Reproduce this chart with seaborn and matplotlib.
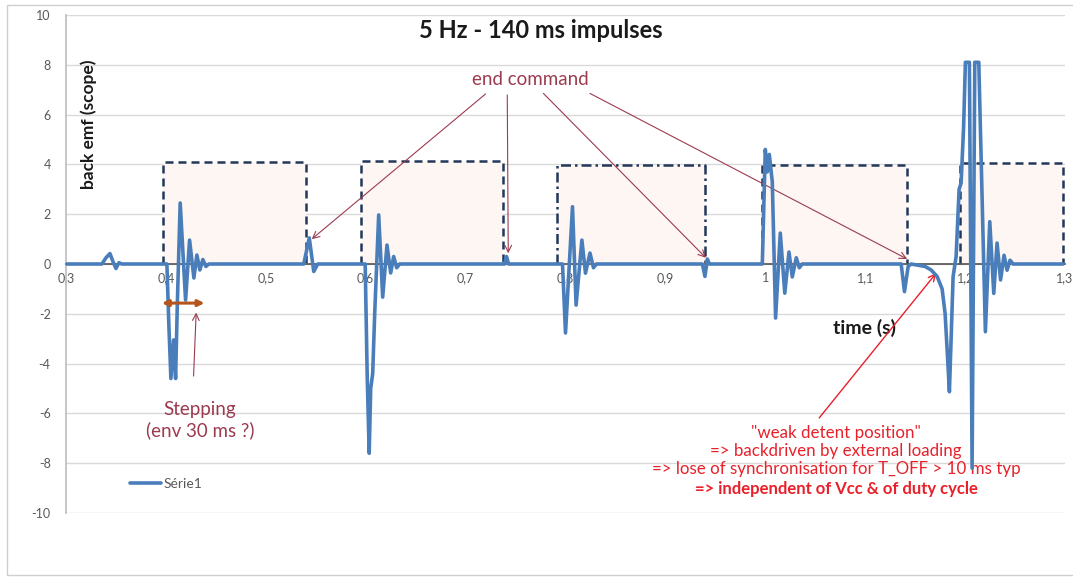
import numpy as np
import pandas as pd
import seaborn as sns
from matplotlib import pyplot as plt
from matplotlib.patches import Rectangle

# scope trace, points (time in s, back emf)
t = [0.300, 0.336, 0.340, 0.344, 0.347, 0.350, 0.353, 0.356,
     0.401, 0.403, 0.405, 0.4077, 0.4097, 0.4115, 0.4143, 0.4197, 0.4237, 0.428, 0.431, 0.434, 0.437, 0.440, 0.443,
     0.538, 0.5435, 0.548, 0.552,
     0.5995, 0.6015, 0.6035, 0.605, 0.607, 0.609, 0.613, 0.617, 0.6213, 0.625, 0.628, 0.631, 0.634,
     0.739, 0.741, 0.743,
     0.797, 0.800, 0.807, 0.8106, 0.8164, 0.820, 0.8245, 0.828, 0.831,
     0.937, 0.9396, 0.942, 0.944,
     0.997, 1.000, 1.002, 1.004, 1.007, 1.0103, 1.015, 1.0195, 1.0237, 1.027, 1.031, 1.034, 1.037,
     1.136, 1.1393, 1.143, 1.146, 1.160, 1.166, 1.172, 1.177, 1.180, 1.1825, 1.1843, 1.186, 1.188,
     1.191, 1.194, 1.196, 1.1985, 1.2003, 1.2043, 1.207, 1.2097, 1.2137, 1.2203, 1.2247, 1.2287,
     1.232, 1.2355, 1.239, 1.242, 1.245, 1.248, 1.298]
v = [0.0, 0.0, 0.25, 0.42, 0.1, -0.18, 0.05, 0.0,
     0.0, -2.5, -4.6, -3.05, -4.6, -1.5, 2.45, -1.45, 0.96, -0.56, 0.36, -0.24, 0.18, -0.1, 0.0,
     0.0, 1.05, -0.3, 0.0,
     0.0, -4.5, -7.6, -5.0, -4.4, -2.0, 1.97, -1.33, 0.76, -0.36, 0.3, -0.15, 0.0,
     0.0, 0.3, 0.0,
     0.0, -2.77, 2.3, -1.65, 0.96, -0.37, 0.44, -0.15, 0.0,
     0.0, -0.5, 0.2, 0.0,
     0.0, 4.6, 3.7, 4.4, 3.3, -2.17, 1.24, -1.17, 0.48, -0.52, 0.25, -0.15, 0.0,
     0.0, -1.11, -0.1, 0.0, -0.1, -0.24, -0.5, -1.0, -2.0, -3.8, -5.13, -3.0, -0.5,
     0.3, 3.0, 3.25, 5.5, 8.1, 8.1, -8.2, 8.1, 8.1, -2.72, 1.7, -1.18,
     0.84, -0.64, 0.35, -0.25, 0.15, 0.0, 0.0]

# command impulses (start, end, level)
pulse_start = [0.397, 0.595, 0.791, 0.9965, 1.195]
pulse_end = [0.540, 0.737, 0.940, 1.142, 1.298]
pulse_level = [4.1, 4.14, 3.98, 3.98, 4.06]
pulse_style = ["dash", "dash", "dashdot", "dash", "dash"]

xticks = [0.3, 0.4, 0.5, 0.6, 0.7, 0.8, 0.9, 1.0, 1.1, 1.2, 1.3]
xlabels = ["0,3", "0,4", "0,5", "0,6", "0,7", "0,8", "0,9", "1", "1,1", "1,2", "1,3"]
yticks = [-10, -8, -6, -4, -2, 0, 2, 4, 6, 8, 10]

# end command arrows: tails then tips
end_tails = [(0.720, 6.83), (0.7417, 6.79), (0.7779, 6.85), (0.8245, 6.85)]
end_tips = [(0.546, 1.0), (0.7427, 0.43), (0.9405, 0.25), (1.142, 0.2)]

red_lines = ['"weak detent position"',
             "=> backdriven by external loading",
             "=> lose of synchronisation for T_OFF > 10 ms typ"]
red_bold = "=> independent of Vcc & of duty cycle"

sns.set_theme(style="white")
plt.rcParams['font.family'] = ['Lato', 'DejaVu Sans']

fig = plt.figure(figsize=(10.73, 5.80), dpi=100)
ax = fig.add_axes([66 / 1073, 67 / 580, 999 / 1073, 498 / 580])

# outer chart frame
fig.patches.append(Rectangle((7 / 1073, 5 / 580), 1.0, 570 / 580, transform=fig.transFigure,
                             fill=False, edgecolor="#cfcfcf", lw=1.0))

navy = "#22375a"
for s, e, h, st in zip(pulse_start, pulse_end, pulse_level, pulse_style):
    ax.fill_between([s, e], 0, h, color="#fdf6f2", zorder=1, lw=0)
    ls = (0, (3.2, 2.0)) if st == "dash" else (0, (4.0, 1.6, 1.0, 1.6))
    ax.plot([s, s, e, e], [0, h, h, 0], color=navy, lw=1.8, ls=ls, zorder=2)

df = pd.DataFrame({"time": t, "emf": v})
sns.lineplot(data=df, x="time", y="emf", sort=False, estimator=None,
             color="#4a7ebb", lw=2.6, label="Série1", ax=ax, zorder=4)

ax.set_xlim(0.3, 1.3)
ax.set_ylim(-10, 10)
ax.set_yticks(yticks)
ax.set_yticklabels([str(y) for y in yticks])
ax.set_xticks(xticks)
ax.set_xticklabels(xlabels)
ax.grid(axis="y", color="#d9d9d9", lw=1.0)
ax.grid(axis="x", visible=False)
ax.set_xlabel("")
ax.set_ylabel("")
ax.spines["top"].set_visible(False)
ax.spines["right"].set_visible(False)
ax.spines["left"].set_color("#bfbfbf")
ax.spines["bottom"].set_position(("data", 0))
ax.spines["bottom"].set_color("#595959")
ax.spines["bottom"].set_zorder(3)
ax.tick_params(axis="y", length=5, color="#d0d0d0", labelsize=9, labelcolor="#595959", pad=6)
ax.tick_params(axis="x", length=0, labelsize=9, labelcolor="#595959", pad=6)

fig.text(0.504, 0.948, "5 Hz - 140 ms impulses", ha="center", va="center",
         fontsize=17, fontweight="bold", color="#1a1a1a")
ax.text(0.023, 0.78, "back emf (scope)", transform=ax.transAxes, rotation=90,
        ha="center", va="center", fontsize=12.5, fontweight="bold", color="#1a1a1a")
ax.text(1.099, -2.57, "time (s)", ha="center", va="center", fontsize=14,
        fontweight="bold", color="#1a1a1a")

maroon = "#9b3b50"
ax.text(0.7646, 7.39, "end command", ha="center", va="center", fontsize=13.5, color=maroon)
for tail, tip in zip(end_tails, end_tips):
    ax.annotate("", xy=tip, xytext=tail,
                arrowprops=dict(arrowstyle="->", color=maroon, lw=0.8, shrinkA=0, shrinkB=0))

ax.annotate("", xy=(0.4386, -1.57), xytext=(0.396, -1.57),
            arrowprops=dict(arrowstyle="<|-|>", color="#b5541c", lw=2.2,
                            mutation_scale=9, shrinkA=0, shrinkB=0), zorder=5)
ax.annotate("", xy=(0.4303, -1.95), xytext=(0.4277, -4.5),
            arrowprops=dict(arrowstyle="->", color=maroon, lw=0.8, shrinkA=0, shrinkB=0))
ax.text(0.434, -6.27, "Stepping\n(env 30 ms ?)", ha="center", va="center",
        fontsize=13.5, color=maroon, linespacing=1.2)

red = "#e8202a"
ax.annotate("", xy=(1.171, -0.37), xytext=(1.054, -6.18),
            arrowprops=dict(arrowstyle="->", color=red, lw=1.0, shrinkA=0, shrinkB=0))
for i, line in enumerate(red_lines):
    ax.text(1.071, -6.79 - 0.72 * i, line, ha="center", va="center", fontsize=12.2, color=red)
ax.text(1.071, -9.04, red_bold, ha="center", va="center", fontsize=12,
        fontweight="bold", color=red)

ax.legend(loc="center left", bbox_to_anchor=(0.052, 0.058), frameon=False,
          fontsize=10, labelcolor="#595959", handlelength=2.2, handletextpad=0.2)

fig.savefig("out.png", dpi=100)
